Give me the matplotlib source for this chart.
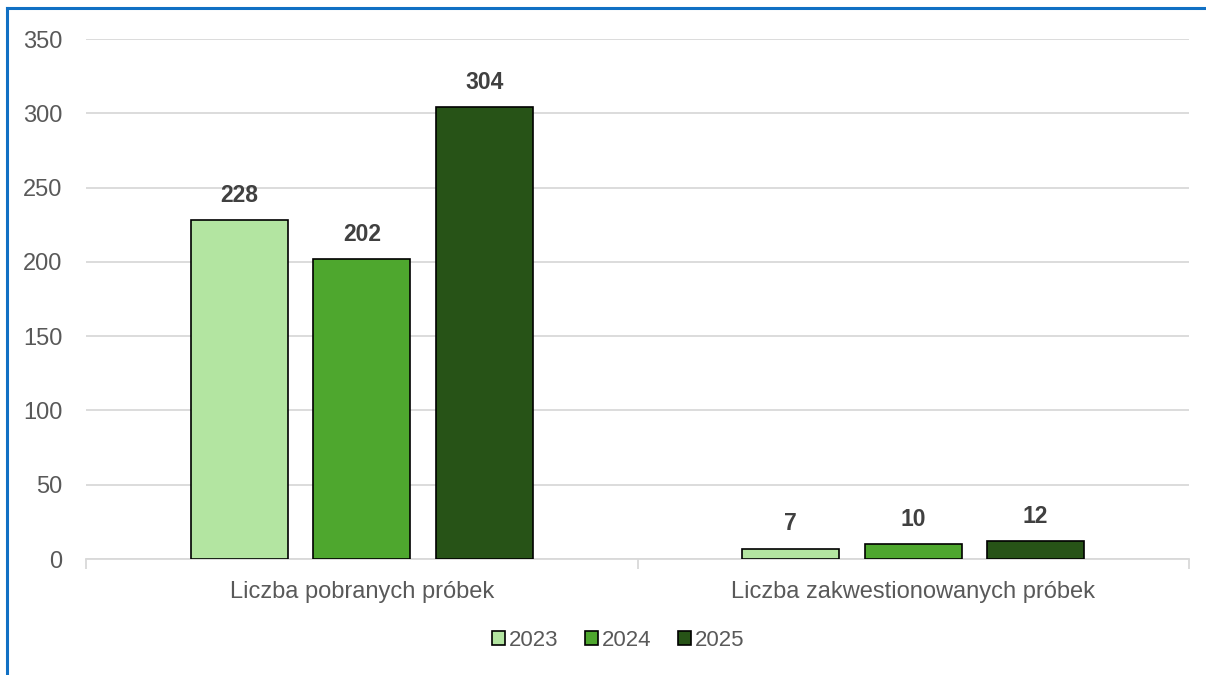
import numpy as np
import matplotlib.pyplot as plt
from matplotlib.lines import Line2D
from matplotlib.patches import Patch

categories = ['Liczba pobranych próbek', 'Liczba zakwestionowanych próbek']
years = ['2023', '2024', '2025']
v2023 = [228, 7]
v2024 = [202, 10]
v2025 = [304, 12]
colors = ['#b3e5a1', '#4ea72e', '#275317']

plt.rcParams['font.family'] = ['Liberation Sans', 'DejaVu Sans']

fig = plt.figure(figsize=(12.06, 6.75), dpi=100)
ax = fig.add_axes([86/1206, 1-559/675, 1103/1206, 520/675])

x = np.arange(len(categories))
w = 0.176
step = 0.222
for i, (vals, c) in enumerate(zip([v2023, v2024, v2025], colors)):
    pos = x + (i - 1) * step
    bars = ax.bar(pos, vals, width=w, color=c, edgecolor='black', linewidth=1.2, zorder=3)
    for b, v in zip(bars, vals):
        ax.text(b.get_x() + b.get_width()/2, v + 9, str(v), ha='center', va='bottom',
                fontsize=16.5, fontweight='bold', color='#404040')

ax.set_xlim(-0.5, 1.5)
ax.set_ylim(0, 350)
ax.set_yticks(range(0, 351, 50))
ax.yaxis.grid(True, color='#d9d9d9', linewidth=1.3, zorder=0)
ax.tick_params(axis='y', length=0, labelsize=17, labelcolor='#595959', pad=17)
ax.set_xticks([-0.5, 0.5, 1.5])
ax.set_xticklabels([])
ax.set_xticks(x, minor=True)
ax.set_xticklabels(categories, minor=True)
ax.tick_params(axis='x', which='major', length=7, color='#d9d9d9', width=1.3)
ax.tick_params(axis='x', which='minor', length=0, labelsize=17, labelcolor='#595959', pad=16)
for s in ['top', 'right', 'left']:
    ax.spines[s].set_visible(False)
ax.spines['bottom'].set_color('#d9d9d9')
ax.spines['bottom'].set_linewidth(1.3)

handles = [Patch(facecolor=c, edgecolor='black', linewidth=1.2) for c in colors]
fig.legend(handles, years, loc='center', bbox_to_anchor=(618/1206, 1-640/675), ncol=3,
           frameon=False, fontsize=16, labelcolor='#595959', handlelength=0.6, handleheight=0.6,
           handletextpad=0.15, columnspacing=1.2)

# blue frame (top and left edges visible)
fig.add_artist(Line2D([7/1206, 1], [1-8/675, 1-8/675], color='#1170c4', linewidth=2.2))
fig.add_artist(Line2D([7/1206, 7/1206], [0, 1-8/675], color='#1170c4', linewidth=2.2))

plt.savefig('out.png', dpi=100)
